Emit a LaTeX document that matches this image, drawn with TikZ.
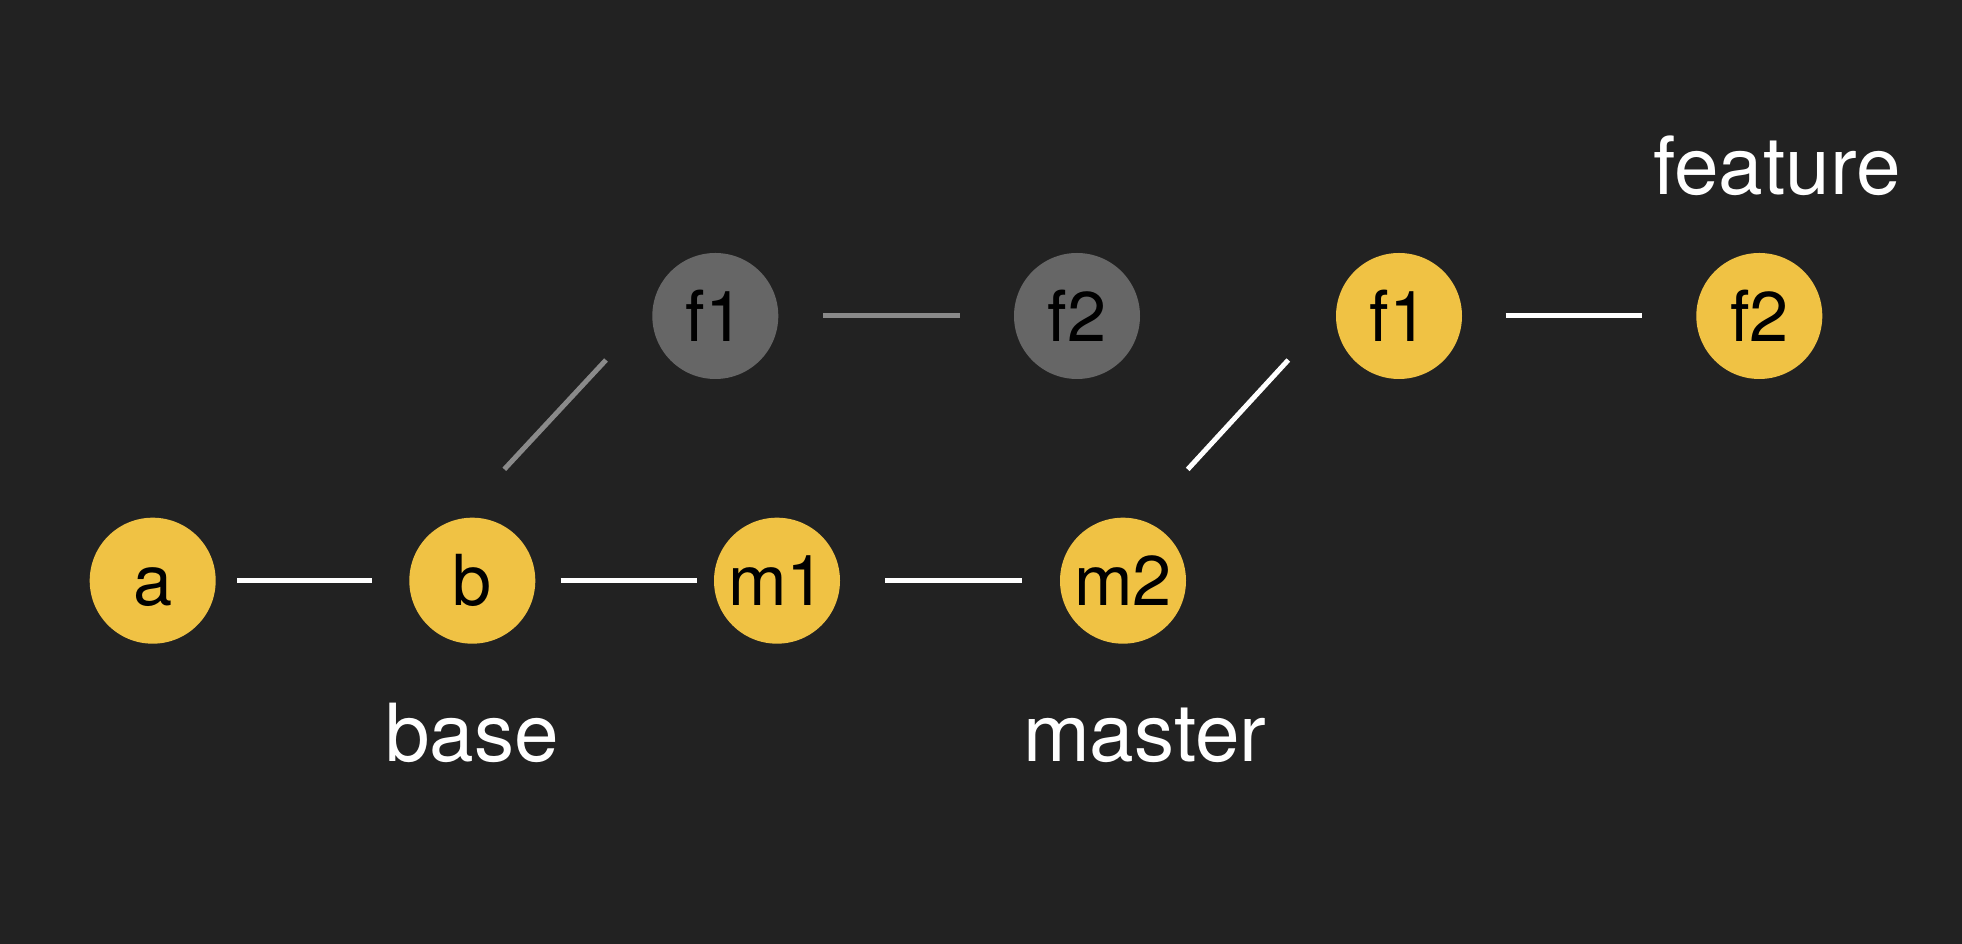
\documentclass[tikz,border=0pt]{standalone}
\usepackage{fontspec}
\setmainfont{TeX Gyre Heros}
\definecolor{bgdark}{HTML}{222222}
\definecolor{commit}{HTML}{F0C244}
\definecolor{oldcommit}{HTML}{666666}
\definecolor{oldlink}{HTML}{8A8A8A}
\tikzset{
  commitnode/.style={circle,fill=commit,minimum size=1.26cm,inner sep=0pt,
    text height=14.3pt,text depth=0pt,
    font=\fontsize{20}{22}\selectfont},
  oldnode/.style={commitnode,fill=oldcommit},
  link/.style={draw=white,line width=0.05cm},
  oldlink/.style={draw=oldlink,line width=0.05cm},
  branchname/.style={text=white,anchor=base,inner sep=0pt,
    font=\fontsize{22.8}{26}\selectfont}
}
\begin{document}
\begin{tikzpicture}
        \fill[bgdark] (0,0) rectangle (19.62,9.44);
        \useasboundingbox (0,0) rectangle (19.62,9.44);
        % master line
        \node[commitnode] (a) at (1.527,3.633) {a};
        \node[commitnode] (b) at (4.723,3.633) {b};
        \node[commitnode] (m1) at (7.77,3.633) {m1};
        \node[commitnode] (m2) at (11.23,3.633) {m2};
        % old feature commits
        \node[oldnode] (gf1) at (7.153,6.28) {f1};
        \node[oldnode] (gf2) at (10.77,6.28) {f2};
        % rebased feature commits
        \node[commitnode] (f1) at (13.99,6.28) {f1};
        \node[commitnode] (f2) at (17.593,6.28) {f2};
        \node[branchname] (base) at (4.72,1.82) {base};
        \node[branchname] (master) at (11.447,1.823) {master};
        \node[branchname] (feature) at (17.77,7.49) {feature};
        \draw[link, shorten <=0.208cm, shorten >=0.363cm] (a) -- (b);
        \draw[link, shorten <=0.247cm, shorten >=0.163cm] (b) -- (m1);
        \draw[link, shorten <=0.446cm, shorten >=0.377cm] (m1) -- (m2);
        \draw[oldlink, shorten <=0.44cm, shorten >=0.53cm] (gf1) -- (gf2);
        \draw[link, shorten <=0.43cm, shorten >=0.533cm] (f1) -- (f2);
        \draw[oldlink] ([shift={(0.32,1.114)}]b.center) -- ([shift={(-1.093,-0.44)}]gf1.center);
        \draw[link] ([shift={(0.647,1.113)}]m2.center) -- ([shift={(-1.107,-0.44)}]f1.center);
    \end{tikzpicture}
\end{document}
